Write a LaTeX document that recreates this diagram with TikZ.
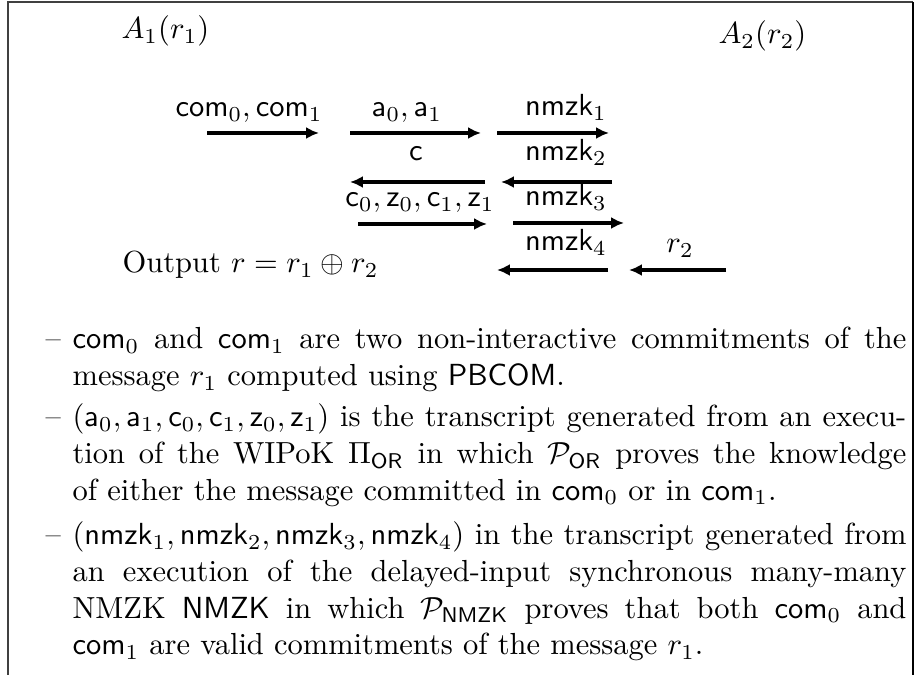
\documentclass[tikz,border=0pt]{standalone}
\usepackage{amsmath}
\usepackage{tikz}
\usetikzlibrary{arrows.meta,positioning}
\tikzset{
  parte/.style={anchor=base west, inner sep=0pt},
  etiqueta/.style={anchor=base, inner sep=0pt},
  mensagem/.style={-{Latex[length=4.2pt,width=3.9pt]}, line width=1.1pt},
  moldura/.style={line width=0.45pt, black!75},
  marca/.style={anchor=base west, inner sep=0pt},
  topico/.style={anchor=base west, inner sep=0pt, text width=273.4pt, align=justify},
}
\newcommand{\hang}{\hangindent=7.9pt\hangafter=1\baselineskip=12.8pt\tolerance=9999\relax}

\begin{document}
\begin{tikzpicture}[x=0.3279pt, y=-0.3279pt]
  \useasboundingbox (0,0) rectangle (916,675);

  % --- Moldura (aberta embaixo) -------------------------------------------
  \draw[moldura] (8,675) -- (8,2) -- (913,2);
  \draw[moldura, line width=0.7pt, black] (913,2) -- (913,675);

  % --- Partes -------------------------------------------------------------
  \node[parte] (alice) at (121,39) {$A_1(r_1)$};
  \node[parte] (bob)   at (718,44) {$A_2(r_2)$};

  % --- Rótulos das mensagens ----------------------------------------------
  \node[etiqueta] (lcom)   at (249,117) {$\mathsf{com}_0,\mathsf{com}_1$};
  \node[etiqueta] (la)     at (407,117) {$\mathsf{a}_0,\mathsf{a}_1$};
  \node[etiqueta] (lnmzk1) at (566,116) {$\mathsf{nmzk}_1$};
  \node[etiqueta] (lc)     at (416,161) {$\mathsf{c}$};
  \node[etiqueta] (lnmzk2) at (566,161) {$\mathsf{nmzk}_2$};
  \node[etiqueta] (lresp)  at (420,207) {$\mathsf{c}_0,\mathsf{z}_0,\mathsf{c}_1,\mathsf{z}_1$};
  \node[etiqueta] (lnmzk3) at (566,206) {$\mathsf{nmzk}_3$};
  \node[etiqueta] (lnmzk4) at (566,251) {$\mathsf{nmzk}_4$};
  \node[etiqueta] (lr2)    at (680,253) {$r_2$};
  \node[parte]    (saida)  at (122,273) {Output $r = r_1 \oplus r_2$};

  % --- Setas (início/fim, linha) ------------------------------------------
  \foreach \xa/\xb/\y [count=\i] in {207/319/133, 350/481/133, 497/609/133,
                                      485/350/182, 612/501/182,
                                      358/487/224, 513/624/223,
                                      608/497/270, 726/629/270} {
    \coordinate (s\i a) at (\xa,\y);
    \coordinate (s\i b) at (\xb,\y);
    \draw[mensagem] (s\i a) -- (s\i b);
  }

  % --- Texto explicativo --------------------------------------------------
  \node[marca]  (d1) at (45,349) {--};
  \node[topico] (t1) at (72,349) {\hang
    $\mathsf{com}_0$ and $\mathsf{com}_1$ are two non-interactive commitments of the\linebreak
    message $r_1$ computed using $\mathsf{PBCOM}$.};
  \node[marca]  (d2) at (45,427) {--};
  \node[topico] (t2) at (72,427) {\hang
    $(\mathsf{a}_0,\mathsf{a}_1,\mathsf{c}_0,\mathsf{c}_1,\mathsf{z}_0,\mathsf{z}_1)$ is the transcript generated from an execu-\linebreak
    tion of the WIPoK $\Pi_{\mathsf{OR}}$ in which $\mathcal{P}_{\mathsf{OR}}$ proves the knowledge\linebreak
    of either the message committed in $\mathsf{com}_0$ or in $\mathsf{com}_1$.};
  \node[marca]  (d3) at (45,545) {--};
  \node[topico] (t3) at (72,545) {\hang
    $(\mathsf{nmzk}_1,\mathsf{nmzk}_2,\mathsf{nmzk}_3,\mathsf{nmzk}_4)$ in the transcript generated from\linebreak
    an execution of the delayed-input synchronous many-many\linebreak
    NMZK $\mathsf{NMZK}$ in which $\mathcal{P}_{\mathsf{NMZK}}$ proves that both $\mathsf{com}_0$ and\linebreak
    $\mathsf{com}_1$ are valid commitments of the message $r_1$.};
\end{tikzpicture}
\end{document}
